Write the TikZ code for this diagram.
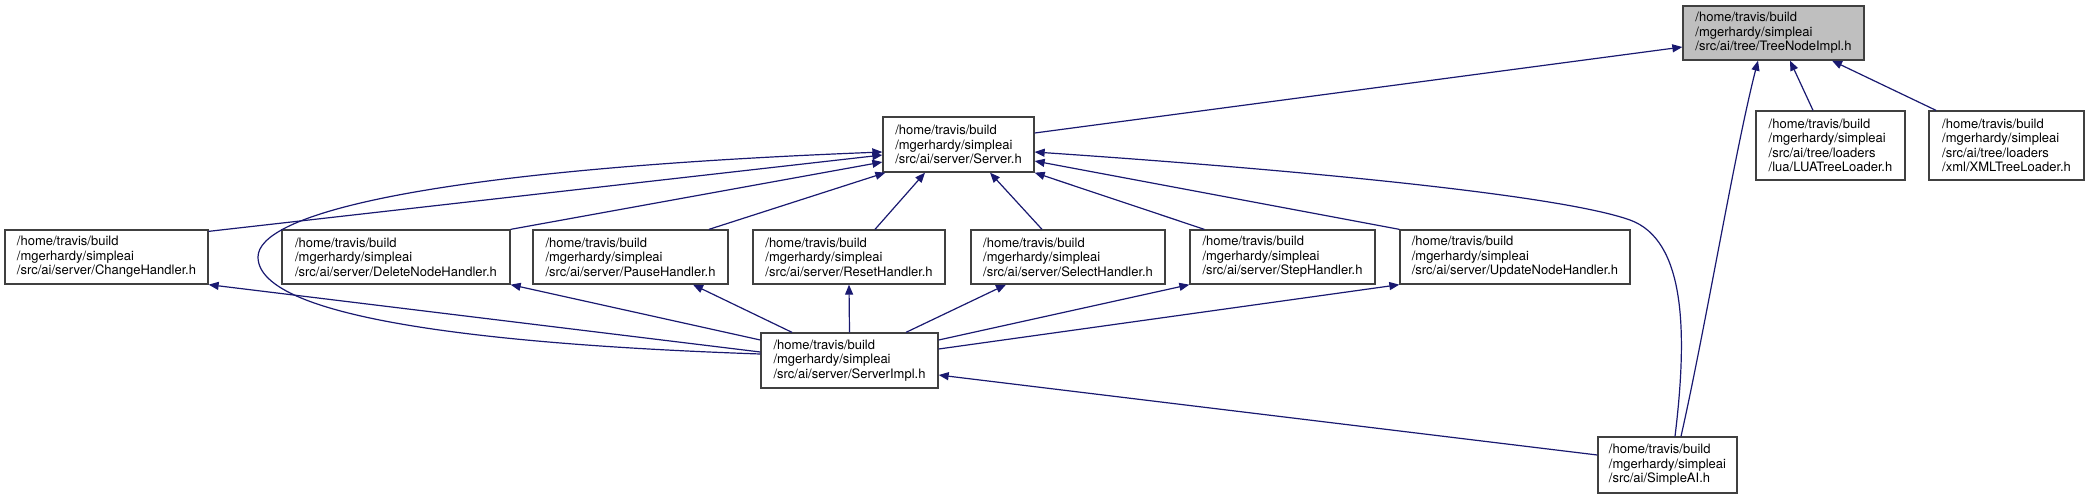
\documentclass[tikz,border=0pt]{standalone}
\usepackage{fontspec}
\setmainfont{TeX Gyre Heros}
\usetikzlibrary{arrows.meta}
\definecolor{boxline}{HTML}{404040}
\definecolor{depblue}{HTML}{191970}
\definecolor{mainfill}{HTML}{BFBFBF}
\tikzstyle{file}=[draw=boxline, line width=1.3pt, align=left, inner sep=0pt, font=\fontsize{13}{14.5}\selectfont]
\tikzstyle{dep}=[draw=depblue, line width=1.2pt, -{Triangle[length=10pt,width=8pt]}]

\begin{document}
\begin{tikzpicture}[x=1pt, y=-1pt]
	\useasboundingbox (0,0) rectangle (2089,499);
	\node[file, fill=mainfill, minimum width=181pt, minimum height=54pt] (tni) at (1773.5,33) {/home/travis/build\\/mgerhardy/simpleai\\/src/ai/tree/TreeNodeImpl.h};
	\node[file, minimum width=149pt, minimum height=69pt] (lua) at (1830.5,145.5) {/home/travis/build\\/mgerhardy/simpleai\\/src/ai/tree/loaders\\/lua/LUATreeLoader.h};
	\node[file, minimum width=155pt, minimum height=69pt] (xml) at (2006.5,145.5) {/home/travis/build\\/mgerhardy/simpleai\\/src/ai/tree/loaders\\/xml/XMLTreeLoader.h};
	\node[file, minimum width=151pt, minimum height=55pt] (server) at (958.5,144.5) {/home/travis/build\\/mgerhardy/simpleai\\/src/ai/server/Server.h};
	\node[file, minimum width=203pt, minimum height=54pt] (change) at (106.5,257) {/home/travis/build\\/mgerhardy/simpleai\\/src/ai/server/ChangeHandler.h};
	\node[file, minimum width=228pt, minimum height=54pt] (delete) at (396,257) {/home/travis/build\\/mgerhardy/simpleai\\/src/ai/server/DeleteNodeHandler.h};
	\node[file, minimum width=195pt, minimum height=54pt] (pause) at (630.5,257) {/home/travis/build\\/mgerhardy/simpleai\\/src/ai/server/PauseHandler.h};
	\node[file, minimum width=192pt, minimum height=54pt] (reset) at (849,257) {/home/travis/build\\/mgerhardy/simpleai\\/src/ai/server/ResetHandler.h};
	\node[file, minimum width=194pt, minimum height=54pt] (select) at (1068,257) {/home/travis/build\\/mgerhardy/simpleai\\/src/ai/server/SelectHandler.h};
	\node[file, minimum width=185pt, minimum height=54pt] (step) at (1282.5,257) {/home/travis/build\\/mgerhardy/simpleai\\/src/ai/server/StepHandler.h};
	\node[file, minimum width=230pt, minimum height=54pt] (update) at (1515,257) {/home/travis/build\\/mgerhardy/simpleai\\/src/ai/server/UpdateNodeHandler.h};
	\node[file, minimum width=177pt, minimum height=55pt] (impl) at (849.5,360.5) {/home/travis/build\\/mgerhardy/simpleai\\/src/ai/server/ServerImpl.h};
	\node[file, minimum width=139pt, minimum height=56pt] (simpleai) at (1667.5,465) {/home/travis/build\\/mgerhardy/simpleai\\/src/ai/SimpleAI.h};

	\draw[dep] ([yshift=11.5pt]server.east) -- ([yshift=-14pt]tni.west);
	\draw[dep] ([xshift=-17.5pt]lua.north) -- ([xshift=16.5pt]tni.south);
	\draw[dep] ([xshift=-70.5pt]xml.north) -- ([xshift=58.5pt]tni.south);
	\draw[dep] ([xshift=13.5pt]simpleai.north) .. controls (1705,330) and (1735,150) .. ([xshift=-15.5pt]tni.south);
	\draw[dep] ([xshift=7.5pt]simpleai.north) .. controls (1688,330) and (1685,240) .. (1630,220) .. controls (1560,195) and (1300,170) .. ([yshift=-7.5pt]server.east);
	\draw[dep] ([yshift=6.5pt]impl.west) .. controls (500,345) and (258,320) .. (258,257) .. controls (258,215) and (420,170) .. ([yshift=-7.5pt]server.west);
	\draw[dep] ([yshift=-2pt]change.north east) -- ([yshift=-10.5pt]server.west);
	\draw[dep] (delete.north east) -- ([yshift=-17.5pt]server.west);
	\draw[dep] ([xshift=78.5pt]pause.north) -- ([xshift=3pt]server.south west);
	\draw[dep] ([xshift=26pt]reset.north) -- ([xshift=-33.5pt]server.south);
	\draw[dep] ([xshift=-26pt]select.north) -- ([xshift=31.5pt]server.south);
	\draw[dep] ([xshift=15pt]step.north west) -- (server.south east);
	\draw[dep] (update.north west) -- ([yshift=-16.5pt]server.east);
	\draw[dep] ([yshift=8.5pt]impl.west) -- (change.south east);
	\draw[dep] ([yshift=20.5pt]impl.west) -- (delete.south east);
	\draw[dep] ([xshift=-57.5pt]impl.north) -- ([xshift=62.5pt]pause.south);
	\draw[dep] (impl.north) -- (reset.south);
	\draw[dep] ([xshift=56.5pt]impl.north) -- ([xshift=-62pt]select.south);
	\draw[dep] ([yshift=20.5pt]impl.east) -- (step.south west);
	\draw[dep] ([yshift=11.5pt]impl.east) -- (update.south west);
	\draw[dep] ([yshift=10pt]simpleai.west) -- ([yshift=-14.5pt]impl.east);
\end{tikzpicture}
\end{document}
